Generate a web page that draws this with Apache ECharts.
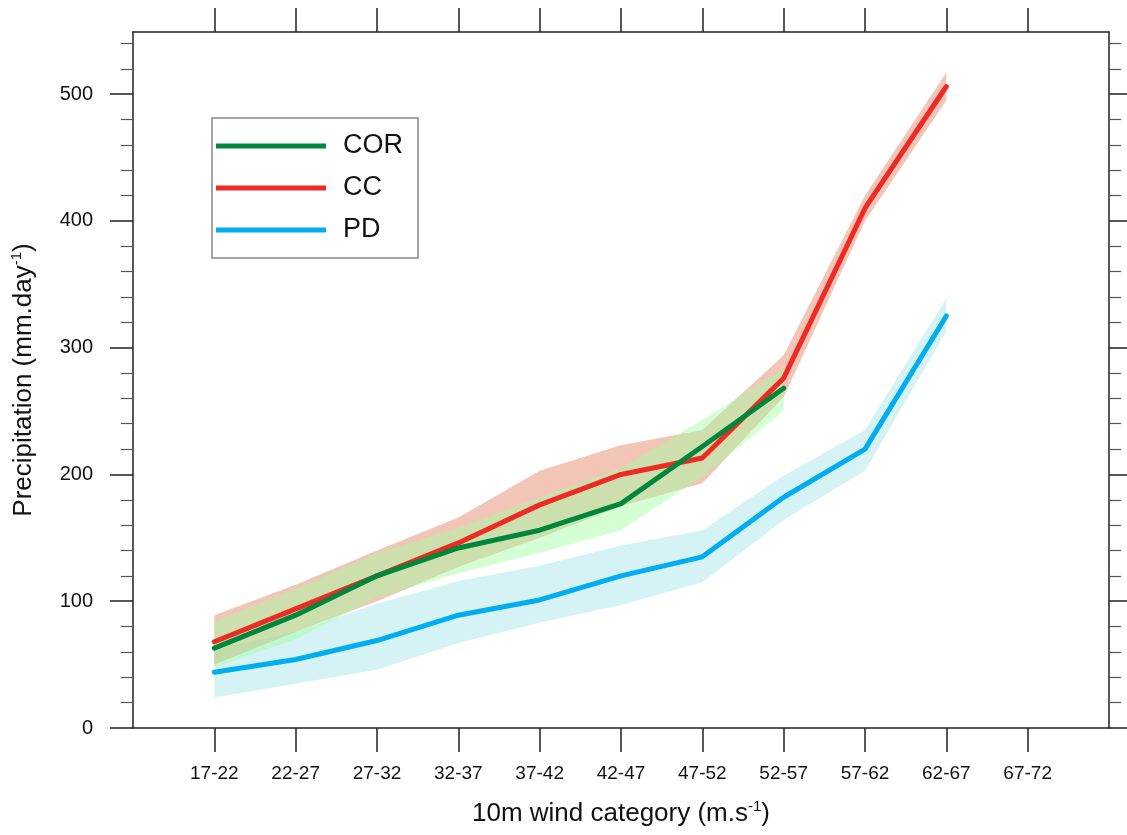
<!DOCTYPE html>
<html>
<head>
<meta charset="utf-8">
<script src="https://cdn.jsdelivr.net/npm/echarts@6/dist/echarts.min.js"></script>
<style>
  html, body { margin: 0; padding: 0; background: #fff; }
  #main { width: 1127px; height: 835px; }
</style>
</head>
<body>
<div id="main"></div>
<script>
// wind categories (x axis); blank slots pad the frame on both sides
var categories = ['', '17-22', '22-27', '27-32', '32-37', '37-42', '42-47', '47-52', '52-57', '57-62', '62-67', '67-72', ''];

// mean precipitation (first value sits on '17-22')
var corMean = [63, 89, 120, 142, 156, 177, 222, 268];
var ccMean  = [68, 94, 120, 146, 176, 200, 213, 276, 410, 506];
var pdMean  = [44, 54, 69, 89, 101, 120, 135, 182, 220, 325];

// shaded spread (lower / upper)
var corLow  = [48, 70, 103, 122, 138, 156, 198, 250];
var corHigh = [84, 110, 138, 158, 182, 205, 243, 284];
var ccLow   = [50, 76, 100, 127, 150, 175, 193, 261, 400, 495];
var ccHigh  = [89, 113, 140, 166, 203, 223, 235, 294, 420, 517];
var pdLow   = [24, 35, 46, 67, 83, 97, 115, 164, 203, 313];
var pdHigh  = [62, 76, 98, 116, 128, 144, 156, 199, 235, 339];

var yMajor = [0, 100, 200, 300, 400, 500];
var yMinor = [];
for (var v = 20; v < 549; v += 20) { if (v % 100 !== 0) yMinor.push(v); }

function pts(arr) { return arr.map(function (y, i) { return [i + 1, y]; }); }
function diff(hi, lo) { return hi.map(function (y, i) { return [i + 1, y - lo[i]]; }); }

var axisCol = '#222';
var font = "'Liberation Sans', Arial, sans-serif";

function band(name, lo, hi, color) {
  return [
    { name: name + ' lo', type: 'line', stack: name, data: pts(lo), symbol: 'none', silent: true,
      lineStyle: { width: 0, opacity: 0 } },
    { name: name + ' hi', type: 'line', stack: name, data: diff(hi, lo), symbol: 'none', silent: true,
      lineStyle: { width: 0, opacity: 0 }, areaStyle: { color: color, opacity: 1 } }
  ];
}

function meanLine(name, data, color) {
  return { name: name, type: 'line', data: pts(data), symbol: 'none', color: color,
    lineStyle: { width: 5, color: color, cap: 'round', join: 'round' } };
}

function realCat(i, val) { return val !== ''; }

var myChart = echarts.init(document.getElementById('main'));
var option = {
  animation: false,
  backgroundColor: '#fff',
  textStyle: { fontFamily: font },
  grid: { left: 133, right: 18, top: 32, bottom: 107 },
  legend: {
    data: ['COR', 'CC', 'PD'],
    orient: 'vertical',
    left: 212, top: 118,
    padding: [14, 15, 14, 4],
    borderColor: '#888', borderWidth: 1.5,
    icon: 'rect',
    itemWidth: 110, itemHeight: 5,
    itemGap: 14,
    textStyle: { fontSize: 27, color: '#111', lineHeight: 28, padding: [0, 0, 0, 12], fontFamily: font }
  },
  xAxis: [
    {
      type: 'category', position: 'bottom', data: categories, boundaryGap: false,
      name: '10m wind category (m.s{sup|-1})', nameLocation: 'middle', nameGap: 71,
      nameTextStyle: { fontSize: 26, color: '#111', fontFamily: font,
        rich: { sup: { fontSize: 15, verticalAlign: 'top', lineHeight: 30, fontFamily: font, color: '#111' } } },
      axisLine: { show: true, onZero: false, lineStyle: { color: axisCol, width: 1.5 } },
      axisTick: { show: true, interval: realCat, length: 24, lineStyle: { color: axisCol, width: 1.5 } },
      axisLabel: { interval: 0, margin: 36, fontSize: 19, color: '#111', fontFamily: font },
      splitLine: { show: false }
    },
    {
      type: 'category', position: 'top', data: categories, boundaryGap: false,
      axisLine: { show: true, onZero: false, lineStyle: { color: axisCol, width: 1.5 } },
      axisTick: { show: true, interval: realCat, length: 24, lineStyle: { color: axisCol, width: 1.5 } },
      axisLabel: { show: false },
      splitLine: { show: false }
    }
  ],
  yAxis: [
    {
      type: 'value', position: 'left', min: 0, max: 549,
      name: 'Precipitation (mm.day{sup|-1})', nameLocation: 'middle', nameGap: 94,
      nameTextStyle: { fontSize: 26, color: '#111', fontFamily: font,
        rich: { sup: { fontSize: 15, verticalAlign: 'top', lineHeight: 30, fontFamily: font, color: '#111' } } },
      axisLine: { show: true, onZero: false, lineStyle: { color: axisCol, width: 1.5 } },
      axisTick: { show: true, customValues: yMajor, length: 23, lineStyle: { color: axisCol, width: 1.5 } },
      axisLabel: { customValues: yMajor, margin: 40, fontSize: 20, color: '#111', fontFamily: font },
      splitLine: { show: false }
    },
    {
      type: 'value', position: 'left', min: 0, max: 549,
      axisLine: { show: false, onZero: false },
      axisTick: { show: true, customValues: yMinor, length: 12, lineStyle: { color: '#555', width: 1.2 } },
      axisLabel: { show: false },
      splitLine: { show: false }
    },
    {
      type: 'value', position: 'right', min: 0, max: 549,
      axisLine: { show: true, onZero: false, lineStyle: { color: axisCol, width: 1.5 } },
      axisTick: { show: true, customValues: yMajor, length: 23, lineStyle: { color: axisCol, width: 1.5 } },
      axisLabel: { show: false },
      splitLine: { show: false }
    },
    {
      type: 'value', position: 'right', min: 0, max: 549,
      axisLine: { show: false, onZero: false },
      axisTick: { show: true, customValues: yMinor, length: 12, lineStyle: { color: '#555', width: 1.2 } },
      axisLabel: { show: false },
      splitLine: { show: false }
    }
  ],
  series: [].concat(
    band('pdBand', pdLow, pdHigh, 'rgba(150,225,228,0.4)'),
    band('ccBand', ccLow, ccHigh, 'rgba(230,140,110,0.5)'),
    band('corBand', corLow, corHigh, 'rgba(160,255,160,0.45)'),
    [
      meanLine('PD', pdMean, '#00aeef'),
      meanLine('CC', ccMean, '#ee2a24'),
      meanLine('COR', corMean, '#00873c')
    ]
  )
};

myChart.setOption(option);
</script>
</body>
</html>
